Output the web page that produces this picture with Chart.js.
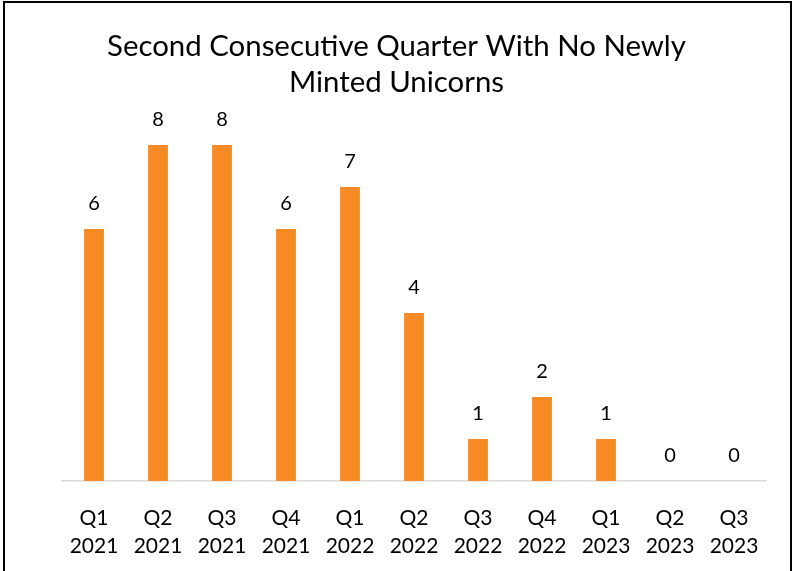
<!DOCTYPE html>
<html>
<head>
<meta charset="utf-8">
<script src="https://cdn.jsdelivr.net/npm/chart.js@4.4.0/dist/chart.umd.min.js"></script>
<style>
  body { margin: 0; background: #fff; overflow: hidden; }
  #frame { position: absolute; left: 3px; top: 1px; width: 785px; height: 600px; border: 2px solid #000; }
  #wrap { position: absolute; left: 0; top: 0; width: 793px; height: 583px; }
</style>
</head>
<body>
<div id="frame"></div>
<div id="wrap"><canvas id="chart"></canvas></div>
<script>
const QUARTERS = ['Q1', 'Q2', 'Q3', 'Q4', 'Q1', 'Q2', 'Q3', 'Q4', 'Q1', 'Q2', 'Q3'];
const YEARS = ['2021', '2021', '2021', '2021', '2022', '2022', '2022', '2022', '2023', '2023', '2023'];
const UNICORNS = [6, 8, 8, 6, 7, 4, 1, 2, 1, 0, 0];
const TITLE = ['Second Consecutive Quarter With No Newly', 'Minted Unicorns'];
const FONT = 'Lato, "Open Sans", sans-serif';

// value labels above each bar
const valueLabels = {
  id: 'valueLabels',
  afterDatasetsDraw(chart) {
    var ctx = chart.ctx;
    var meta = chart.getDatasetMeta(0);
    ctx.save();
    ctx.font = '20px ' + FONT;
    ctx.fillStyle = '#000';
    ctx.textAlign = 'center';
    ctx.textBaseline = 'middle';
    meta.data.forEach((bar, i) => {
      ctx.fillText(String(UNICORNS[i]), bar.x, bar.y - 25);
    });
    ctx.restore();
  },
};

// invisible side axes just to reserve room, so the title stays centred on the page
const spacer = w => ({
  display: true,
  min: 0,
  max: 9,
  grid: { display: false, drawTicks: false },
  border: { display: false },
  ticks: { display: false },
  afterFit(scale) { scale.width = w; },
});

new Chart(document.getElementById('chart'), {
  type: 'bar',
  data: {
    labels: QUARTERS.map((q, i) => [q, YEARS[i]]),
    datasets: [
      {
        data: UNICORNS,
        backgroundColor: '#f68b25',
        categoryPercentage: 1,
        barPercentage: 0.31,
      },
    ],
  },
  options: {
    responsive: true,
    maintainAspectRatio: false,
    animation: false,
    layout: { padding: 0 },
    plugins: {
      legend: { display: false },
      tooltip: { enabled: false },
      title: {
        display: true,
        text: TITLE,
        color: '#000',
        font: { family: FONT, size: 29.4, weight: 'normal', lineHeight: 36 / 29.4 },
        padding: { top: 29, bottom: 2 },
      },
    },
    scales: {
      x: {
        grid: { display: false, drawTicks: false },
        border: { display: true, color: '#d9d9d9', width: 1.5 },
        ticks: {
          color: '#000',
          font: { family: FONT, size: 21, lineHeight: 28 / 21 },
          padding: 23,
          maxRotation: 0,
          autoSkip: false,
        },
      },
      y: Object.assign(spacer(62), { position: 'left' }),
      yRight: Object.assign(spacer(27), { position: 'right' }),
    },
  },
  plugins: [valueLabels],
});
</script>
</body>
</html>
